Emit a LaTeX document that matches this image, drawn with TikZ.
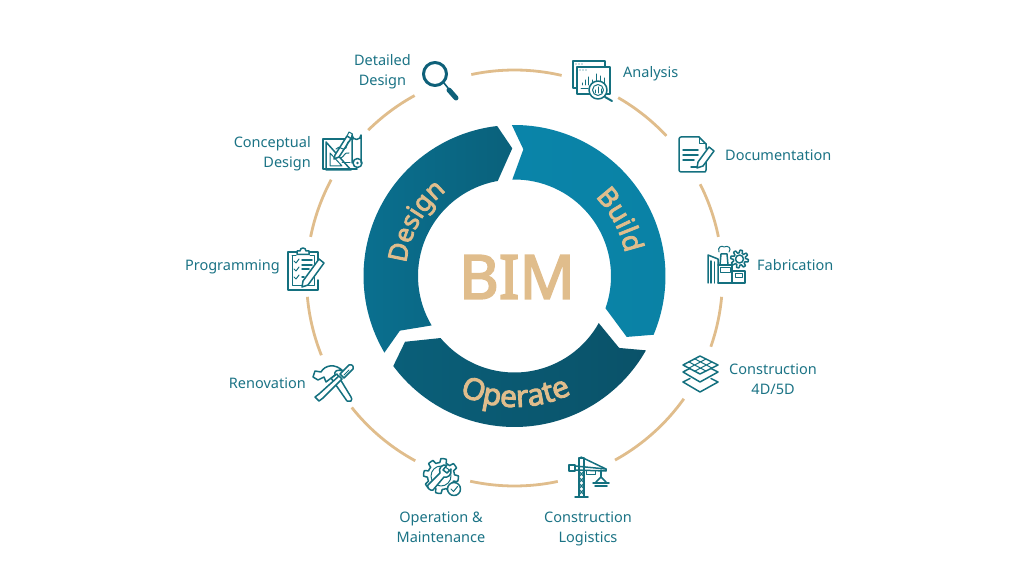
\documentclass[tikz,border=0pt]{standalone}
\usepackage{fontspec}
\setmainfont{Noto Sans}
\newfontfamily\heavy[FakeBold=3]{Noto Sans}
\usetikzlibrary{positioning,calc,decorations.text}
\definecolor{sand}{HTML}{E0BD8C}
\definecolor{labelteal}{HTML}{1B7385}
\definecolor{iconteal}{HTML}{14707F}
\definecolor{glass}{HTML}{0E6079}
\definecolor{designa}{HTML}{0A7090}
\definecolor{designb}{HTML}{0A617B}
\definecolor{builda}{HTML}{0A84A9}
\definecolor{buildb}{HTML}{0A82A5}
\definecolor{operatea}{HTML}{0A5F79}
\definecolor{operateb}{HTML}{0A5269}

\begin{document}
\begin{tikzpicture}[x=1pt,y=1pt,
 lab/.style={align=center,inner sep=0pt,text=labelteal,font=\fontsize{14.5}{20}\selectfont},
 rim/.style={draw=sand,line width=2.8pt},
 ico/.style={shift={(#1)},yscale=-1,color=iconteal,line width=1.5pt,line join=round,line cap=round},
 fine/.style={line width=1pt}]
\useasboundingbox (0,0) rectangle (1024,576);
\coordinate (hub) at (514.5,298);
\coordinate (core) at (514.5,300);

% outer ring
\foreach \from/\to in {102/76.9,60.1/43.1,26.8/11.4,-5.2/-19.3,-35.5/-61.1,-78/-102.3,241.5/218.5,201.8/185.2,168.6/151.8,134.7/118.7}
 \draw[rim] ($(hub)+(\from:208)$) arc[start angle=\from,end angle=\to,radius=208];

% three arrows
\foreach \turn/\cola/\colb in {0/designa/designb,-119.5/builda/buildb,120/operatea/operateb}
 \shade[shift={(core)},rotate=\turn,left color=\cola,right color=\colb]
  (210.5:151) arc[start angle=210.5,end angle=96.6,radius=151] -- (91:127.7) -- (100:96.5)
  arc[start angle=100,end angle=210.8,radius=96.5] -- (205.5:127) -- cycle;

\node[inner sep=0pt,text=sand,font=\fontsize{61}{61}\selectfont\heavy] (bim) at (517,299) {BIM};
\path[shift={(core)},decorate,decoration={text along path,text align=center,text color=sand,
 text={|\fontsize{26}{26}\selectfont\heavy|Design}}] (180:109) arc[start angle=180,end angle=122,radius=109];
\path[shift={(core)},decorate,decoration={text along path,text align=center,text color=sand,
 text={|\fontsize{27}{27}\selectfont\heavy|Build}}] (58:113) arc[start angle=58,end angle=-2,radius=113];
\path[shift={(core)},decorate,decoration={text along path,text align=center,text color=sand,
 text={|\fontsize{30}{30}\selectfont\heavy|Operate}}] (230:131) arc[start angle=230,end angle=311,radius=131];

% icon corners
\coordinate (detailed) at (421,516);
\coordinate (analysis) at (573,515);
\coordinate (docs) at (679,439);
\coordinate (fabric) at (708,331);
\coordinate (layers) at (683,220);
\coordinate (crane) at (569,119);
\coordinate (upkeep) at (423,118);
\coordinate (reno) at (313,213);
\coordinate (prog) at (288,329);
\coordinate (concept) at (322,446);

% labels
\node[lab,left=10pt of detailed,yshift=-11.5pt] (detailedlab) {Detailed\\Design};
\node[lab,right=50pt of analysis,yshift=-13pt] (analysislab) {Analysis};
\node[lab,right=46pt of docs,yshift=-18pt] (docslab) {Documentation};
\node[lab,right=49pt of fabric,yshift=-20pt] (fabriclab) {Fabrication};
\node[lab,right=46pt of layers,yshift=-23pt] (layerslab) {Construction\\4D/5D};
\node[lab,below=55pt of crane,xshift=19pt] (cranelab) {Construction\\Logistics};
\node[lab,below=54pt of upkeep,xshift=18pt] (upkeeplab) {Operation \&\\Maintenance};
\node[lab,left=7pt of reno,yshift=-20pt] (renolab) {Renovation};
\node[lab,left=8pt of prog,yshift=-20pt] (proglab) {Programming};
\node[lab,left=11pt of concept,yshift=-24pt,align=right] (conceptlab) {Conceptual\\Design};

% detailed design
\begin{scope}[ico=detailed,color=glass]
\draw[line width=3pt] (14,14) circle (11.5);
\draw[line width=1.6pt] (23,23) -- (27,28);
\draw[line width=5pt] (28,30) -- (35,38);
\end{scope}

% conceptual design
\begin{scope}[ico=concept]
\draw (31,9) -- (1,9) -- (1,39) -- (31,39) -- (35,39);
\draw (30,33) -- (30,5) arc[start angle=180,end angle=0,radius=4.5] -- (39,33);
\draw (35.5,33) circle (4.5);
\fill (35.5,33) circle (1.3);
\draw (4,12) -- (4,40) -- (29,40) -- cycle;
\draw[fine] (8,23) -- (8,36) -- (20,36) -- cycle;
\draw[fill=white] (13,25) -- (25,6) -- (29,8.5) -- (17,27) -- (12,29) -- cycle;
\draw[fine] (25,6) -- (27,2) -- (30.5,4) -- (29,8.5);
\draw[fine] (14,19) .. controls (18,14) and (20,22) .. (24,18) .. controls (26,14) and (24,12) .. (28,11);
\draw[fine] (19,28) .. controls (23,26) and (22,22) .. (27,23);
\draw[fine] (20,33) -- (28,33);
\end{scope}

% analysis
\begin{scope}[ico=analysis]
\draw (3,27) -- (0,27) -- (0,0) -- (32,0) -- (32,6);
\draw (4,6) rectangle (37,33);
\fill (3,3) circle (.7) (6,3) circle (.7) (9,3) circle (.7) (7,9) circle (.7) (10,9) circle (.7) (13,9) circle (.7);
\draw[fine] (8,28) -- (15,28);
\foreach \barx/\bary in {9/22,12/19,15/16,19/19,23/13,27/15,31/17} \draw[fine] (\barx,24) -- (\barx,\bary);
\draw[fill=white] (25,29) circle (9);
\draw[fine] (25,29) circle (5.5);
\foreach \barx/\bary in {22/29,25/26,28/28} \draw[fine] (\barx,32) -- (\barx,\bary);
\draw[line width=2pt] (32,36) -- (39,40);
\end{scope}

% documentation
\begin{scope}[ico=docs]
\draw (27,17) -- (27,33) .. controls (27,35) and (26,35) .. (25,35) -- (2,35) .. controls (1,35) and (0,34) .. (0,33) -- (0,2) .. controls (0,1) and (1,0) .. (2,0) -- (20,0) -- (27,7) -- (27,12);
\draw[fine] (20,0) -- (20,7) -- (27,7);
\draw (4,13) -- (19,13) (4,18) -- (19,18) (4,23) -- (15,23) (12,30) -- (19,30);
\draw[fill=white] (19,25) -- (30,10) -- (35,14) -- (24,29) -- (18,31) -- cycle;
\end{scope}

% fabrication
\begin{scope}[ico=fabric]
\draw (0,38) -- (0,10) -- (10,14) -- (10,38);
\draw (3,38) -- (3,16) (6.5,38) -- (6.5,17);
\draw (10,38) -- (24,38) -- (24,20) -- (10,20);
\draw[fine] (12,23) rectangle (22,28);
\draw (12,20) -- (13,9) -- (19,9) -- (20,20);
\draw[fine] (11,7) .. controls (9,2) and (14,0) .. (16,2) .. controls (20,0) and (24,3) .. (21,7);
\draw (24,26) -- (37,26) -- (37,38) -- (24,38);
\draw[fine] (27,29) rectangle (34,33);
\draw (31.5,14) circle (4);
\draw[shift={(31.5,14)}] plot[domain=0:360,samples=97] (\x:{7.5+1.4*sign(sin(8*\x))});
\end{scope}

% layers
\begin{scope}[ico=layers]
\draw[fill=white] (0,16) -- (17,26) -- (35,16) -- (17,7) -- cycle;
\draw (0,26) -- (17,36) -- (35,26);
\draw (0,26) -- (7,22.5) (35,26) -- (28,22.5);
\draw[fill=white] (0,9) -- (17,0) -- (35,9) -- (17,18) -- cycle;
\draw[fine] (6,6) -- (23,15) (12,3) -- (29,12) (6,12) -- (23,3) (12,15) -- (29,6);
\end{scope}

% crane
\begin{scope}[ico=crane]
\draw (10,40) -- (10,1) -- (15,1) -- (15,40);
\draw (6,40) -- (19,40);
\foreach \rung in {14,20,26,32} \draw[fine] (10,\rung) -- (15,\rung+6) (15,\rung) -- (10,\rung+6);
\draw (0,8) rectangle (6,14);
\draw (6,9) -- (37,12) -- (37,14) -- (6,13);
\draw (12,0) -- (37,12);
\draw[fine] (17,13) rectangle (26,17);
\draw (32,13) -- (32,20);
\draw (27,25) -- (32,20) -- (37,25);
\draw (24,26) -- (40,26) (26,29) -- (38,29);
\end{scope}

% operation and maintenance
\begin{scope}[ico=upkeep]
\draw[shift={(18,18)}] plot[domain=0:360,samples=145] (\x:{15.5+2*sign(sin(8*\x+20))});
\draw[fine] (18,18) circle (10);
\draw[fill=white] (5,27) -- (17,15) .. controls (15,10) and (19,6) .. (24,7) -- (20,12) -- (24,15) -- (28,11) .. controls (29,17) and (25,20) .. (21,19) -- (10,32) .. controls (7,33) and (4,30) .. (5,27) -- cycle;
\draw[fill=white] (31,31) circle (6.5);
\draw[fine] (28,31) -- (30.5,33.5) -- (34.5,28.5);
\end{scope}

% renovation
\begin{scope}[ico=reno]
\draw[fill=white] (18,15) -- (34,38) -- (38,38) .. controls (39,36) .. (38,34) -- (24,11) -- cycle;
\draw[fill=white] (0,14) -- (2,8) -- (8,9) .. controls (12,2) and (22,0) .. (30,8) .. controls (24,6) and (21,8) .. (22,12) -- (13,19) -- (11,14) -- (5,17) -- cycle;
\draw[fill=white] (6,31) -- (26,13) -- (29,16) -- (10,35) -- (6,38) -- (2,34) -- cycle;
\draw[fill=white] (27,11) -- (36,2) .. controls (39,1) and (41,3) .. (40,6) -- (31,15) -- cycle;
\draw[fine] (31,12) -- (36,7);
\end{scope}

% programming
\begin{scope}[ico=prog]
\draw (30,14) -- (30,5) -- (21,5) (9,5) -- (0,5) -- (0,43) -- (30,43) -- (30,33);
\draw (9,7.5) -- (9,4) -- (12,4) .. controls (12,0) and (18,0) .. (18,4) -- (21,4) -- (21,7.5) -- cycle;
\draw[fine] (4,9) -- (4,39) -- (26,39) -- (26,9) -- (22,9) (8,9) -- (4,9);
\foreach \rowy in {14,22,30} \draw[fine] (6,\rowy) -- (8,\rowy+2) -- (11,\rowy-2);
\draw (14,13) -- (24,13) (14,18) -- (24,18) (14,22) -- (21,22) (14,30) -- (16,30);
\draw[fill=white] (15,34) -- (31,12) -- (36,16) -- (20,38) -- (14,40) -- cycle;
\end{scope}
\end{tikzpicture}
\end{document}
